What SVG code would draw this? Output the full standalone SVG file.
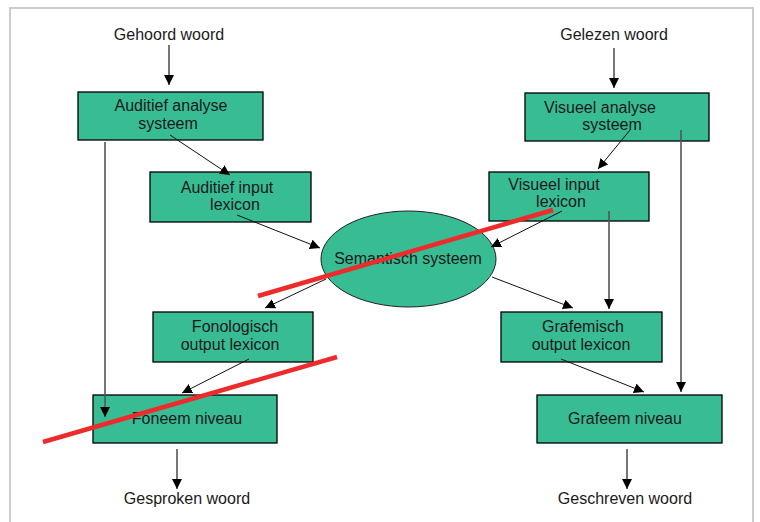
<svg xmlns="http://www.w3.org/2000/svg" width="760" height="522" viewBox="0 0 760 522">
<defs>
<marker id="ah" viewBox="0 0 10 10" refX="10" refY="5" markerWidth="10" markerHeight="10" markerUnits="userSpaceOnUse" orient="auto">
<path d="M0,0 L10,5 L0,10 Z" fill="#000"/>
</marker>
</defs>
<style>
.box{fill:#38bc94;stroke:#000;stroke-width:1.3}
.t{font-family:"Liberation Sans",Arial,sans-serif;font-size:16px;fill:#1a1a1a;text-anchor:middle}
.v{stroke:#555;stroke-width:1.6;fill:none}
.d{stroke:#111;stroke-width:1;fill:none}
.red{stroke:#ee2a2a;stroke-width:4.5;stroke-linecap:butt}
</style>
<rect x="0" y="0" width="760" height="522" fill="#fff"/>
<rect x="10" y="8" width="743" height="530" fill="none" stroke="#cccccc" stroke-width="2"/>

<g id="labels">
<text class="t" x="169" y="40">Gehoord woord</text>
<text class="t" x="614" y="40">Gelezen woord</text>
<text class="t" x="187" y="504">Gesproken woord</text>
<text class="t" x="625" y="504">Geschreven woord</text>
</g>

<g id="aud-analyse">
<rect class="box" x="78" y="92" width="185" height="48"/>
<text class="t" x="171" y="111">Auditief analyse</text>
<text class="t" x="168" y="129">systeem</text>
</g>
<g id="aud-input">
<rect class="box" x="150" y="172" width="161" height="50"/>
<text class="t" x="227" y="193">Auditief input</text>
<text class="t" x="235" y="210">lexicon</text>
</g>
<g id="vis-analyse">
<rect class="box" x="525" y="93" width="184" height="48"/>
<text class="t" x="600" y="113">Visueel analyse</text>
<text class="t" x="612" y="130">systeem</text>
</g>
<g id="vis-input">
<rect class="box" x="489" y="172" width="160" height="49"/>
<text class="t" x="554" y="190">Visueel input</text>
<text class="t" x="561" y="207">lexicon</text>
</g>
<g id="semantisch">
<ellipse cx="408.5" cy="259" rx="87.5" ry="48" fill="#38bc94" stroke="#222" stroke-width="1"/>
<text class="t" x="408" y="264">Semantisch systeem</text>
</g>
<g id="fono-output">
<rect class="box" x="153" y="312" width="160" height="50"/>
<text class="t" x="235" y="332">Fonologisch</text>
<text class="t" x="230" y="350">output lexicon</text>
</g>
<g id="graf-output">
<rect class="box" x="501" y="312" width="161" height="50"/>
<text class="t" x="583" y="332">Grafemisch</text>
<text class="t" x="581" y="350">output lexicon</text>
</g>
<g id="foneem">
<rect class="box" x="93" y="395" width="184" height="48"/>
<text class="t" x="187" y="424">Foneem niveau</text>
</g>
<g id="grafeem">
<rect class="box" x="537" y="395" width="185" height="48"/>
<text class="t" x="625" y="424">Grafeem niveau</text>
</g>

<g id="connectors">
<line class="v" x1="169" y1="45" x2="169" y2="85" marker-end="url(#ah)"/>
<line class="v" x1="614" y1="48" x2="614" y2="88" marker-end="url(#ah)"/>
<line class="v" x1="105" y1="142" x2="105" y2="417" marker-end="url(#ah)"/>
<line class="v" x1="681" y1="130" x2="681" y2="392" marker-end="url(#ah)"/>
<line class="v" x1="609" y1="211" x2="609" y2="309" marker-end="url(#ah)"/>
<line class="v" x1="177" y1="449" x2="177" y2="489" marker-end="url(#ah)"/>
<line class="v" x1="627" y1="449" x2="627" y2="489" marker-end="url(#ah)"/>
<line class="d" x1="170" y1="135" x2="230" y2="175" marker-end="url(#ah)"/>
<line class="d" x1="237" y1="215" x2="320" y2="248" marker-end="url(#ah)"/>
<line class="d" x1="630" y1="130" x2="598" y2="169" marker-end="url(#ah)"/>
<line class="d" x1="562" y1="211" x2="491" y2="247" marker-end="url(#ah)"/>
<line class="d" x1="326" y1="279" x2="265" y2="308" marker-end="url(#ah)"/>
<line class="d" x1="492" y1="277" x2="573" y2="308" marker-end="url(#ah)"/>
<line class="d" x1="249" y1="359" x2="182" y2="393" marker-end="url(#ah)"/>
<line class="d" x1="561" y1="359" x2="644" y2="392" marker-end="url(#ah)"/>
</g>

<g id="strikes">
<line class="red" x1="43" y1="442" x2="337" y2="357"/>
<line class="red" x1="258" y1="296" x2="553" y2="210"/>
</g>
</svg>
